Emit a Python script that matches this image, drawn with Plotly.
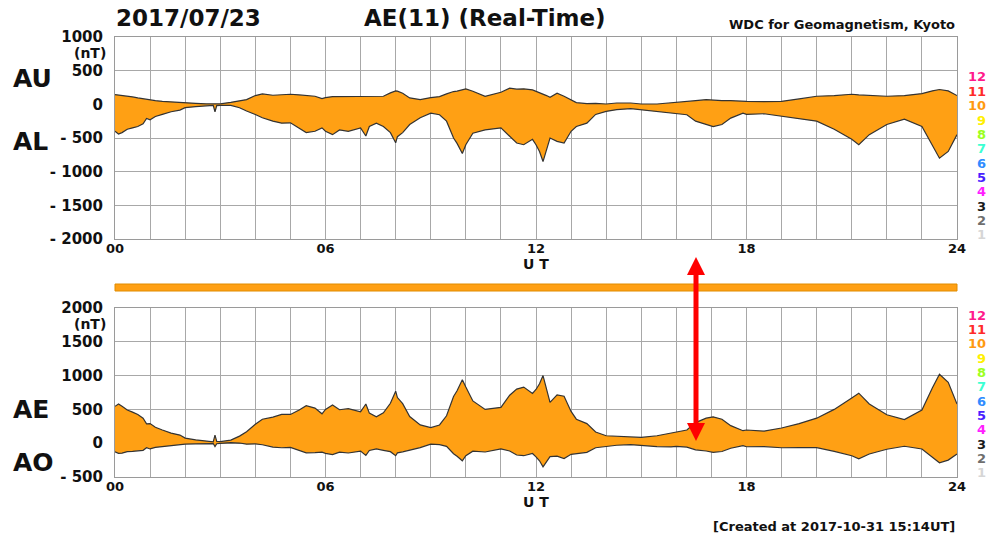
import plotly.graph_objects as go

# Universal time (hours) and auroral-electrojet indices in nT
hours = [0.00, 0.10, 0.20, 0.35, 0.50, 0.65, 0.80, 0.90, 1.00, 1.15, 1.35, 1.60, 1.85,
         2.00, 2.30, 2.60, 2.80, 2.85, 2.90, 3.00, 3.30, 3.55, 3.75, 4.00, 4.20, 4.50,
         4.75, 5.00, 5.25, 5.45, 5.70, 5.90, 6.00, 6.20, 6.40, 6.65, 7.00, 7.15, 7.25,
         7.45, 7.65, 7.85, 8.00, 8.05, 8.20, 8.40, 8.70, 9.00, 9.25, 9.45, 9.65, 9.75,
         9.90, 10.00, 10.20, 10.55, 11.00, 11.25, 11.45, 11.65, 11.90, 12.00, 12.10,
         12.20, 12.30, 12.40, 12.60, 12.80, 13.00, 13.15, 13.45, 13.70, 14.00, 14.30,
         14.70, 15.00, 15.45, 15.85, 16.00, 16.30, 16.55, 16.85, 17.05, 17.30, 17.55,
         17.90, 18.00, 18.50, 19.00, 19.50, 20.00, 20.50, 21.00, 21.20, 21.50, 22.00,
         22.50, 23.00, 23.30, 23.50, 23.75, 24.00]
au = [145, 140, 125, 120, 110, 95, 80, 75, 60, 55, 45, 40, 35,
      25, 15, 8, 5, 10, 5, 8, 30, 55, 70, 130, 155, 135,
      145, 150, 140, 135, 120, 85, 100, 115, 115, 110, 115, 110, 115,
      110, 120, 170, 200, 195, 165, 95, 70, 100, 115, 155, 190, 195,
      210, 230, 195, 120, 180, 240, 225, 230, 215, 195, 180,
      150, 130, 105, 165, 120, 70, 25, 10, 15, 5, 20,
      20, 5, 5, 20, 35, 40, 55, 70, 60, 55, 55,
      55, 45, 40, 45, 80, 120, 130, 150, 140, 130, 120,
      130, 160, 200, 220, 200, 130]
al = [-400, -440, -420, -370, -350, -330, -290, -210, -230, -180, -150, -110, -85,
      -50, -35, -20, -15, -110, -20, -15, -15, -50, -100, -150, -200, -250,
      -280, -275, -350, -420, -400, -350, -400, -450, -380, -400, -350, -470, -330,
      -280, -330, -420, -570, -480, -420, -300, -200, -130, -155, -250, -500, -580,
      -730, -600, -430, -380, -350, -470, -575, -600, -520, -600, -700,
      -850, -680, -500, -550, -575, -400, -330, -280, -150, -105, -80,
      -65, -80, -105, -130, -130, -155, -250, -300, -330, -300, -205,
      -130, -150, -140, -180, -210, -250, -370, -520, -600, -450, -300,
      -220, -330, -620, -800, -700, -450]

# AE = AU - AL, AO = (AU + AL) / 2
ae = [u - l for u, l in zip(au, al)]
ao = [(u + l) / 2 for u, l in zip(au, al)]

x_ticks = [0, 6, 12, 18, 24]
x_ticktext = ["00", "06", "12", "18", "24"]
top_ticks = [-2000, -1500, -1000, -500, 0, 500, 1000]
top_ticktext = ["- 2000", "- 1500", "- 1000", "- 500", "0", "500", "1000"]
bot_ticks = [-500, 0, 500, 1000, 1500, 2000]
bot_ticktext = ["- 500", "0", "500", "1000", "1500", "2000"]

station_numbers = ["12", "11", "10", "9", "8", "7", "6", "5", "4", "3", "2", "1"]
station_colors = ["#FF1A8C", "#FF2A2A", "#FF9A10", "#FFF000", "#9CFF1E", "#3CFFD2",
                  "#2F8CFF", "#4A1EFF", "#FF1EFF", "#1A1A1A", "#6E6E6E", "#D6D6D6"]

W, H = 990, 538
ORANGE = "#FFA014"
EDGE = "#333333"
GRID = "#a8a8a8"
FONT = "DejaVu Sans"


def px(x):
    return x / W


def py(y):
    return 1 - y / H


fig = go.Figure()
fig.add_trace(go.Scatter(x=hours, y=al, mode="lines", line=dict(color=EDGE, width=1.2),
                         xaxis="x", yaxis="y", hoverinfo="skip"))
fig.add_trace(go.Scatter(x=hours, y=au, mode="lines", fill="tonexty", fillcolor=ORANGE,
                         line=dict(color=EDGE, width=1.2), xaxis="x", yaxis="y",
                         hoverinfo="skip"))
fig.add_trace(go.Scatter(x=hours, y=ao, mode="lines", line=dict(color=EDGE, width=1.2),
                         xaxis="x2", yaxis="y2", hoverinfo="skip"))
fig.add_trace(go.Scatter(x=hours, y=ae, mode="lines", fill="tonexty", fillcolor=ORANGE,
                         line=dict(color=EDGE, width=1.2), xaxis="x2", yaxis="y2",
                         hoverinfo="skip"))

xcommon = dict(range=[0, 24], tickvals=x_ticks, ticktext=[f"<b>{t}</b>" for t in x_ticktext],
               showgrid=True, gridcolor=GRID, gridwidth=1, showline=True, linecolor="#9a9a9a",
               mirror=True, zeroline=False, ticks="", ticklabelstandoff=-3,
               tickfont=dict(family=FONT, size=13, color="#111"),
               minor=dict(dtick=1, tick0=0, showgrid=True, gridcolor=GRID, gridwidth=1),
               domain=[px(115), px(957)], fixedrange=True, automargin=False)
ycommon = dict(showgrid=True, gridcolor=GRID, gridwidth=1, showline=True, linecolor="#9a9a9a",
               mirror=True, zeroline=False, ticks="", ticklabelstandoff=8,
               tickfont=dict(family=FONT, size=15, color="#111"), fixedrange=True,
               automargin=False)

fig.update_layout(
    width=W, height=H, margin=dict(l=0, r=0, t=0, b=0, pad=0, autoexpand=False),
    paper_bgcolor="white", plot_bgcolor="white", showlegend=False,
    font=dict(family=FONT, color="#111"),
    xaxis=dict(**xcommon, anchor="y"),
    yaxis=dict(**ycommon, range=[-2000, 1000], tickvals=top_ticks,
               ticktext=[f"<b>{t}</b>" for t in top_ticktext],
               domain=[py(239), py(37)], anchor="x"),
    xaxis2=dict(**xcommon, anchor="y2"),
    yaxis2=dict(**ycommon, range=[-500, 2000], tickvals=bot_ticks,
                ticktext=[f"<b>{t}</b>" for t in bot_ticktext],
                domain=[py(477), py(308)], anchor="x2"),
)

ann = []


def text(x, y, s, size, xanchor="center", color="#111", bold=True):
    ann.append(dict(x=px(x), y=py(y), xref="paper", yref="paper", xanchor=xanchor,
                    yanchor="middle", showarrow=False, borderpad=0,
                    text=f"<b>{s}</b>" if bold else s,
                    font=dict(family=FONT, size=size, color=color)))


text(115, 18, "2017/07/23", 23, xanchor="left")
text(485, 18, "AE(11) (Real-Time)", 23)
text(956, 25, "WDC for Geomagnetism, Kyoto", 13, xanchor="right")
text(12, 79, "AU", 25, xanchor="left")
text(12, 141, "AL", 25, xanchor="left")
text(12, 409, "AE", 25, xanchor="left")
text(12, 462, "AO", 25, xanchor="left")
text(107, 53, "(nT)", 14, xanchor="right")
text(107, 324, "(nT)", 14, xanchor="right")
text(536, 264, "U T", 14)
text(536, 502, "U T", 14)
text(956, 526, "[Created at 2017-10-31 15:14UT]", 13, xanchor="right")

for i, (num, col) in enumerate(zip(station_numbers, station_colors)):
    text(987, 77 + i * 14.36, num, 13, xanchor="right", color=col)
    text(987, 315 + i * 14.36, num, 13, xanchor="right", color=col)

fig.update_layout(annotations=ann)

# Separator bar between the two panels
shapes = [dict(type="rect", xref="paper", yref="paper", x0=px(115), x1=px(957),
               y0=py(291), y1=py(284), fillcolor=ORANGE, line=dict(color="#E08C00", width=1))]

# Red double-headed arrow
ax = 696
shapes.append(dict(type="line", xref="paper", yref="paper", x0=px(ax), x1=px(ax),
                   y0=py(270), y1=py(428), line=dict(color="#FF0000", width=5)))
shapes.append(dict(type="path", xref="paper", yref="paper", fillcolor="#FF0000",
                   line=dict(color="#FF0000", width=0),
                   path=f"M {px(ax)},{py(257)} L {px(ax - 9)},{py(275)} L {px(ax + 9)},{py(275)} Z"))
shapes.append(dict(type="path", xref="paper", yref="paper", fillcolor="#FF0000",
                   line=dict(color="#FF0000", width=0),
                   path=f"M {px(ax)},{py(441)} L {px(ax - 9)},{py(423)} L {px(ax + 9)},{py(423)} Z"))
fig.update_layout(shapes=shapes)

fig.write_html("out.html")
